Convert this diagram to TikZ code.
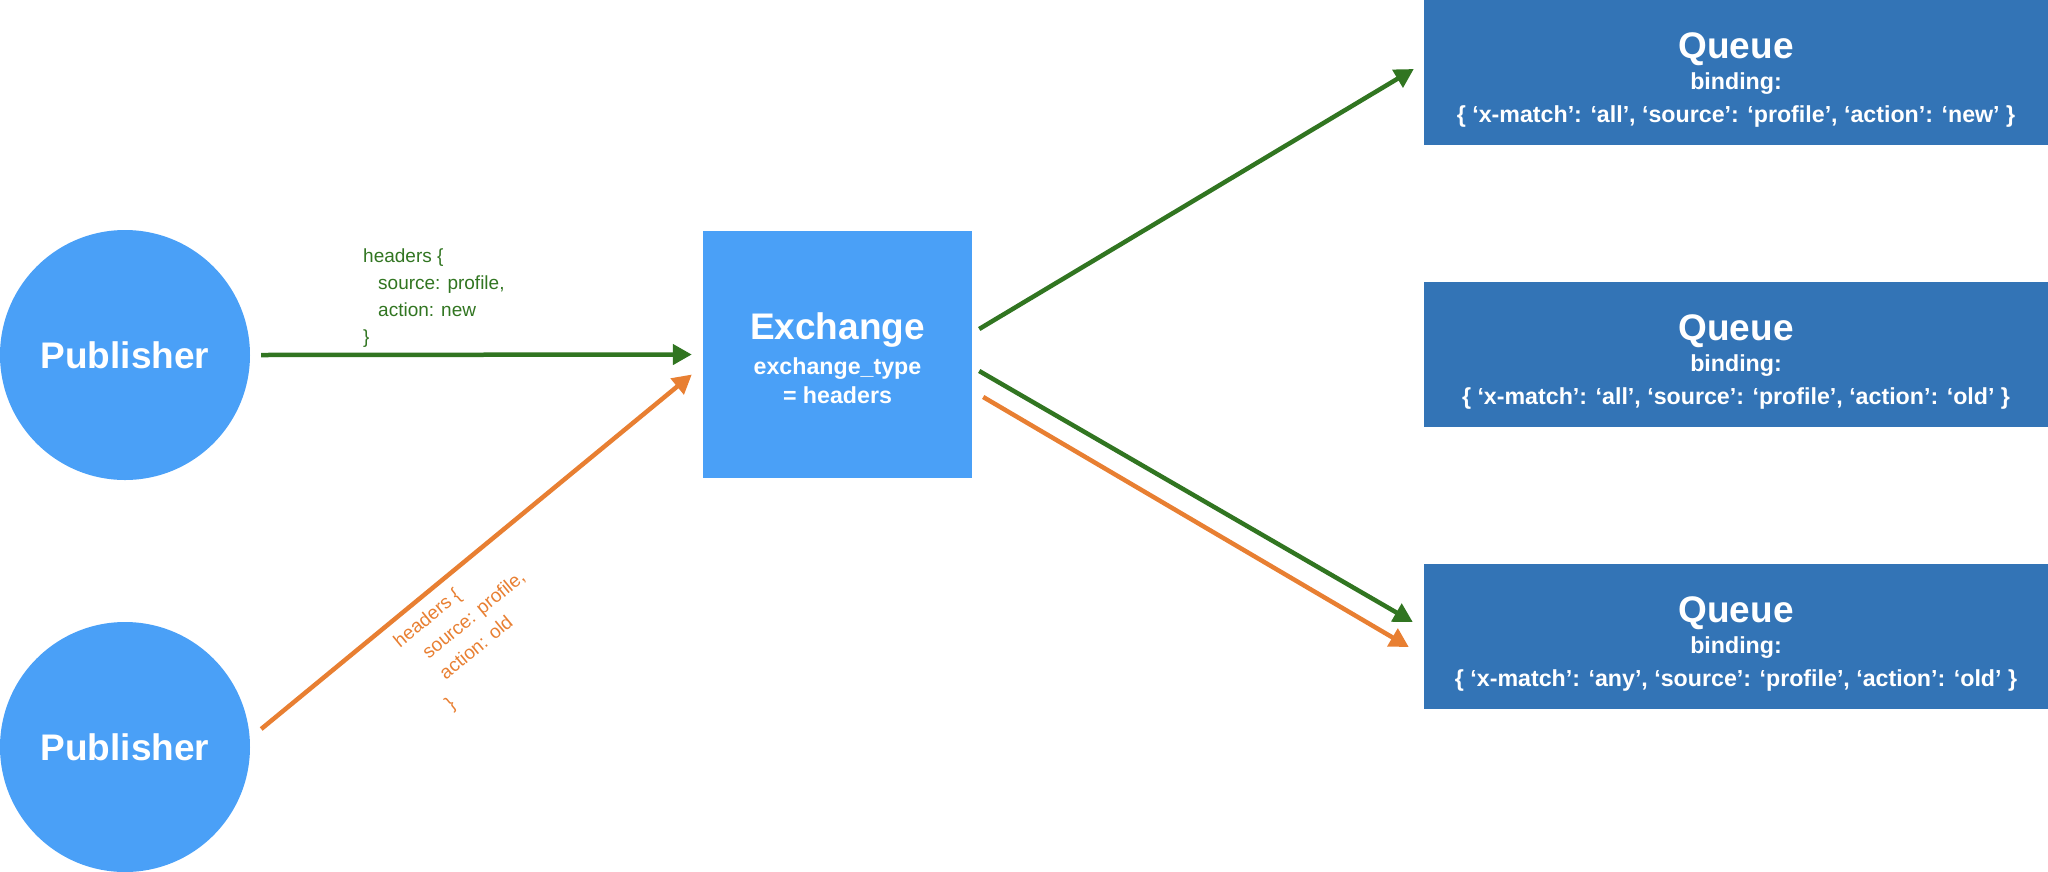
\documentclass[tikz,border=0pt]{standalone}
\usepackage{fontspec}
\setmainfont{Liberation Sans}
\usetikzlibrary{arrows.meta,calc}
\definecolor{pubblue}{RGB}{74,160,247}
\definecolor{qblue}{RGB}{51,116,182}
\definecolor{mgreen}{RGB}{49,117,33}
\definecolor{morange}{RGB}{232,127,50}
\begin{document}
\begin{tikzpicture}[x=1pt,y=-1pt,
  pub/.style={circle,fill=pubblue,minimum size=250pt,inner sep=0pt,text=white,text depth=0pt,font=\fontsize{37}{40}\selectfont\bfseries},
  exbox/.style={rectangle,fill=pubblue,minimum width=269pt,minimum height=247pt,inner sep=0pt},
  qbox/.style={rectangle,fill=qblue,minimum width=624pt,minimum height=145pt,inner sep=0pt},
  title/.style={text=white,font=\fontsize{37}{40}\selectfont\bfseries,inner sep=0pt,anchor=base},
  sub/.style={text=white,font=\fontsize{23.2}{28}\selectfont\bfseries,inner sep=0pt,anchor=base},
  link/.style={line width=4.5pt,-{Triangle[length=19pt,width=20pt]}},
  hdr/.style={font=\fontsize{19}{27}\selectfont,align=left,inner sep=0pt}
]
\useasboundingbox (0,0) rectangle (2048,871);

% publishers
\node[pub] (p1) at (125,355) {Publisher};
\node[pub] (p2) at (125,747) {Publisher};

% exchange
\node[exbox] (ex) at (837.5,354.5) {};
\node[title] (ext) at ($(ex.center)+(0,-15.5)$) {Exchange};
\node[sub] (ex1) at ($(ex.center)+(0,19.5)$) {exchange\_type};
\node[sub] (ex2) at ($(ex.center)+(0,49)$) {= headers};

% queues
\node[qbox] (q1) at (1736,72.5) {};
\node[title] (q1t) at ($(q1.center)+(0,-14)$) {Queue};
\node[sub] (q1b) at ($(q1.center)+(0,17)$) {binding:};
\node[sub] (q1m) at ($(q1.center)+(0,50)$) {\{ ‘x-match’: ‘all’, ‘source’: ‘profile’, ‘action’: ‘new’ \}};

\node[qbox] (q2) at (1736,354.5) {};
\node[title] (q2t) at ($(q2.center)+(0,-14)$) {Queue};
\node[sub] (q2b) at ($(q2.center)+(0,17)$) {binding:};
\node[sub] (q2m) at ($(q2.center)+(0,50)$) {\{ ‘x-match’: ‘all’, ‘source’: ‘profile’, ‘action’: ‘old’ \}};

\node[qbox] (q3) at (1736,636.5) {};
\node[title] (q3t) at ($(q3.center)+(0,-14)$) {Queue};
\node[sub] (q3b) at ($(q3.center)+(0,17)$) {binding:};
\node[sub] (q3m) at ($(q3.center)+(0,50)$) {\{ ‘x-match’: ‘any’, ‘source’: ‘profile’, ‘action’: ‘old’ \}};

% green header label
\node[hdr,text=mgreen,anchor=north west] (gl) at (363,249) {headers \{\\\hspace*{15pt}source: profile,\\\hspace*{15pt}action: new\\\}};

% connectors
\draw[link,mgreen] ([xshift=11pt]p1.east) -- ([xshift=-11pt]ex.west);
\draw[link,morange] ($(p2.east)+(11,-18)$) --
  node[hdr,text=morange,sloped,anchor=north west,pos=0.28,inner ysep=10pt] (ol)
  {headers \{\\\hspace*{15pt}source: profile,\\\hspace*{15pt}action: old\\\}}
  ($(ex.west)+(-11,20)$);

\draw[link,mgreen] ($(ex.east)+(7,-25.5)$) -- ($(q1.west)+(-10,-3.5)$);
\draw[link,mgreen] ($(ex.east)+(7,16.5)$) -- ($(q3.west)+(-11,-14.5)$);
\draw[link,morange] ($(ex.east)+(11,42.5)$) -- ($(q3.west)+(-15,10.5)$);
\end{tikzpicture}
\end{document}
